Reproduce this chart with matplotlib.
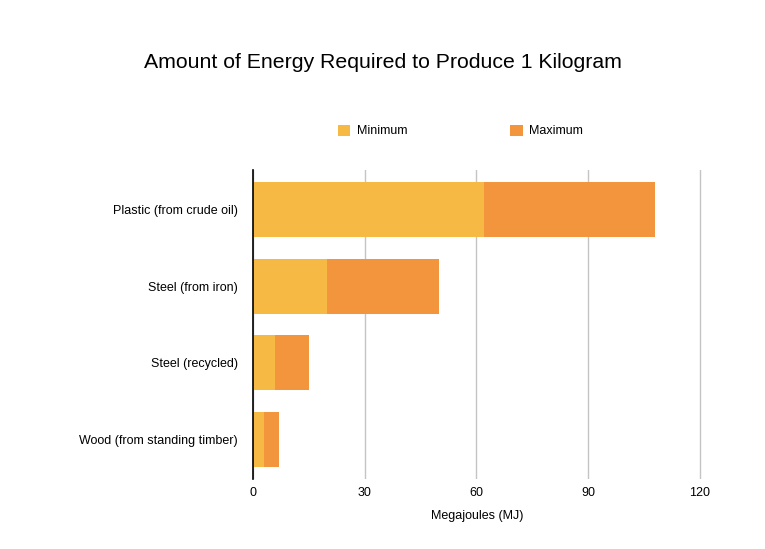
import numpy as np
import matplotlib.pyplot as plt

plt.rcParams['font.family'] = ['Liberation Sans', 'DejaVu Sans']

# values in MJ per kg
materials = ['Plastic (from crude oil)', 'Steel (from iron)', 'Steel (recycled)', 'Wood (from standing timber)']
minimum = [62, 20, 6, 3]
maximum = [108, 50, 15, 7]
xticks = [0, 30, 60, 90, 120]

fig = plt.figure(figsize=(7.65, 5.49), dpi=100)
ax = fig.add_axes([0.3307, 0.1275, 0.917 - 0.3307, 0.6903 - 0.1275])

y = np.arange(len(materials))
extra = np.array(maximum) - np.array(minimum)
ax.barh(y, minimum, height=0.714, color='#F6BA44', label='Minimum', zorder=3)
ax.barh(y, extra, left=minimum, height=0.714, color='#F2953D', label='Maximum', zorder=3)

ax.set_xlim(0, 120.5)
ax.set_ylim(len(materials) - 0.487, -0.513)
ax.set_xticks(xticks)
ax.set_xticklabels([str(t) for t in xticks], fontsize=9)
ax.set_yticks(y)
ax.set_yticklabels(materials, fontsize=9)
ax.tick_params(length=0, pad=11)
ax.tick_params(axis='x', pad=6)
ax.xaxis.grid(True, color='#C4C4C4', linewidth=1, zorder=0)
for s in ['top', 'right', 'bottom']:
    ax.spines[s].set_visible(False)
ax.spines['left'].set_color('black')
ax.spines['left'].set_linewidth(1.2)
ax.spines['left'].set_zorder(4)
ax.set_xlabel('Megajoules (MJ)', fontsize=9, labelpad=8)

fig.text(0.5, 1 - 62 / 549, 'Amount of Energy Required to Produce 1 Kilogram',
         ha='center', va='center', fontsize=15.3)

h, l = ax.get_legend_handles_labels()
fig.legend(h, l, loc='center', bbox_to_anchor=(0.602, 1 - 131 / 549), ncol=2,
           frameon=False, fontsize=9, handlelength=1.0, handleheight=1.0,
           columnspacing=8.2, handletextpad=0.55)

fig.savefig('out.png', dpi=100)
